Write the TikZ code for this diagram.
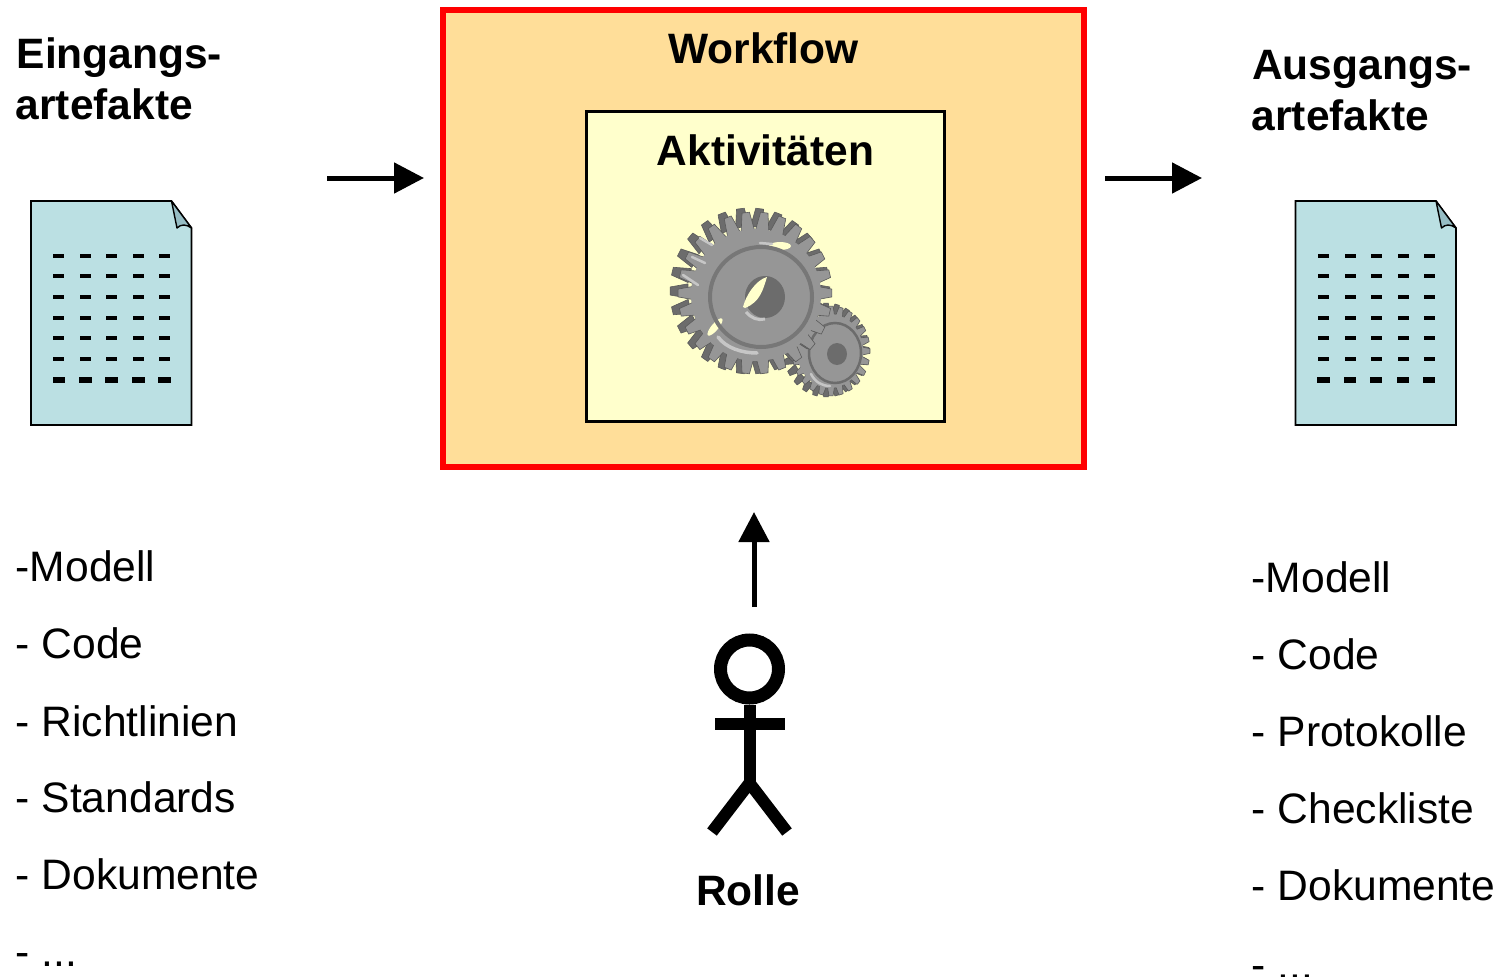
\documentclass[tikz,border=0pt]{standalone}
\usepackage{fontspec}
\setmainfont{Liberation Sans}
\usetikzlibrary{arrows.meta}
\definecolor{wfill}{HTML}{FFDE99}
\definecolor{afill}{HTML}{FFFFCC}
\definecolor{docfill}{HTML}{BBE0E3}
\definecolor{foldfill}{HTML}{96BDC4}
\definecolor{gearmid}{HTML}{969696}
\definecolor{geardark}{HTML}{6C6C6C}
\definecolor{gearedge}{HTML}{5A5A5A}
\definecolor{gearlight}{HTML}{C6C6C6}
\newcommand{\geardoc}[1]{%
  \begin{scope}[shift={(#1,0)}]
    \draw[fill=docfill,line width=1.6pt,line join=miter] (31,201) -- (171.5,201) -- (191.5,228) -- (191.5,425) -- (31,425) -- cycle;
    \draw[fill=foldfill,line width=1.4pt,line join=round] (171.5,201) -- (191.5,228) .. controls (186,224) and (181,224) .. (177,228) -- cycle;
    \foreach \yy in {256,276,297,318,338,359}
      \foreach \xx in {53,80,106,133,159}
        \fill (\xx,\yy-2.2) rectangle (\xx+11,\yy+2.2);
    \foreach \xx in {52.5,79,105,132,158}
      \fill (\xx,377) rectangle (\xx+12.5,383);
  \end{scope}}
\newcommand{\gearteeth}[6]{% cx cy rx ry count colour
  \begin{scope}[shift={(#1,#2)},xscale=#3,yscale=#4]
    \foreach \a in {1,...,#5}{
      \pgfmathsetmacro{\st}{360/#5}
      \fill[#6,draw=gearedge,line width=.6pt,line join=round] ({\a*\st-.46*\st}:.78) -- ({\a*\st-.2*\st}:1) -- ({\a*\st+.2*\st}:1) -- ({\a*\st+.46*\st}:.78) -- cycle;
    }
  \end{scope}}
\tikzset{
  big/.style={font=\bfseries\fontsize{42.5}{50}\selectfont,inner sep=0pt,anchor=base},
  bigl/.style={big,anchor=base west},
  item/.style={font=\fontsize{42.6}{50}\selectfont,inner sep=0pt,anchor=base west},
  flow/.style={line width=5pt,-{Triangle[length=30pt,width=30pt]},shorten >=0pt},
  limb/.style={line width=12pt,line cap=butt,line join=miter}
}
\begin{document}
\begin{tikzpicture}[x=1pt,y=-1pt]
\useasboundingbox (0,0) rectangle (1499,977);
\clip (0,0) rectangle (1499,977);
\fill[white] (0,0) rectangle (1499,977);

% workflow box
\node[draw=red,fill=wfill,line width=6pt,minimum width=641pt,minimum height=457pt,inner sep=0pt] (workflow) at (763.5,238) {};
\node[draw=black,fill=afill,line width=3.5pt,minimum width=358pt,minimum height=310pt,inner sep=0pt] (activities) at (765.5,266.5) {};
\node[big] (wft) at (763.5,63) {Workflow};
\node[big] (akt) at (765.5,165) {Aktivitäten};

% small gear
\gearteeth{826}{350}{43}{47}{24}{geardark}
\gearteeth{831}{351}{39}{45}{24}{gearmid}
\fill[gearmid] (830,351) ellipse [x radius=33,y radius=37];
\draw[geardark,line width=2.5pt] (835,353) ellipse [x radius=26,y radius=30];
\fill[geardark] (837,354) ellipse [x radius=10,y radius=11];
\draw[gearlight,line width=2.5pt,line cap=round] (811,374) .. controls (815,382) and (822,386) .. (830,386);

% large gear
\gearteeth{750}{291}{80}{83}{26}{geardark}
\gearteeth{755}{293}{77}{81}{26}{gearmid}
\fill[gearmid] (756,295) ellipse [x radius=65,y radius=66];
\fill[afill] (780,246) ellipse [x radius=11,y radius=4];
\fill[afill,rotate around={50:(715,327)}] (715,327) ellipse [x radius=11,y radius=3.5];
\draw[geardark!75!gearmid,line width=4pt] (761,297) ellipse [x radius=51,y radius=50];
\draw[gearlight,line width=3.5pt,line cap=round] (718,337) .. controls (726,348) and (742,353) .. (757,353);
\draw[gearlight,line width=2.5pt,line cap=round] (760,243) -- (772,244);
% hub hole
\fill[geardark] (765,297) ellipse [x radius=20,y radius=21];
\fill[afill] (743,307) .. controls (746,295) and (756,280) .. (767,277) .. controls (763,290) and (760,302) .. (745,308) -- cycle;
\draw[gearlight,line width=3pt] (746,312) .. controls (751,318) and (758,321) .. (765,319);
% tooth highlights
\foreach \x/\y/\u/\v in {683/275/698/285,692/257/705/263,700/238/712/245}
  \draw[gearlight,line width=2.5pt,line cap=round] (\x,\y) -- (\u,\v);

% documents
\geardoc{0}
\geardoc{1264.5}

% left column
\node[bigl] (ein1) at (16.5,68) {Eingangs-};
\node[bigl] (ein2) at (15.5,119) {artefakte};
\node[item] (l1) at (15.5,581) {-Modell};
\node[item] (l2) at (15.5,658) {- Code};
\node[item] (l3) at (15.5,736) {- Richtlinien};
\node[item] (l4) at (15.5,812) {- Standards};
\node[item] (l5) at (15.5,889) {- Dokumente};
\node[item] (l6) at (15.5,966) {- ...};

% right column
\node[bigl] (aus1) at (1252,79) {Ausgangs-};
\node[bigl] (aus2) at (1251.5,130) {artefakte};
\node[item] (r1) at (1251.5,592) {-Modell};
\node[item] (r2) at (1251.5,669) {- Code};
\node[item] (r3) at (1251.5,746) {- Protokolle};
\node[item] (r4) at (1251.5,823) {- Checkliste};
\node[item] (r5) at (1251.5,900) {- Dokumente};
\node[item] (r6) at (1251.5,979) {- ...};

% arrows
\coordinate (a1s) at (327,178);
\coordinate (a1e) at (424,178);
\coordinate (a2s) at (1105,178);
\coordinate (a2e) at (1202,178);
\coordinate (a3s) at (754,607);
\coordinate (a3e) at (754,512);
\draw[flow] (a1s) -- (a1e);
\draw[flow] (a2s) -- (a2e);
\draw[flow] (a3s) -- (a3e);

% role figure
\node[circle,draw=black,line width=13pt,minimum size=58pt,inner sep=0pt] (head) at (749.5,669) {};
\coordinate (hip) at (749.5,782);
\coordinate (armL) at (715,724);
\coordinate (armR) at (785,724);
\coordinate (footL) at (712,832);
\coordinate (footR) at (787,832);
\draw[limb] (head.south) -- (hip);
\draw[limb] (armL) -- (armR);
\draw[limb] (footL) -- (749.5,783) -- (footR);
\node[big] (rolle) at (748,905) {Rolle};
\end{tikzpicture}
\end{document}
